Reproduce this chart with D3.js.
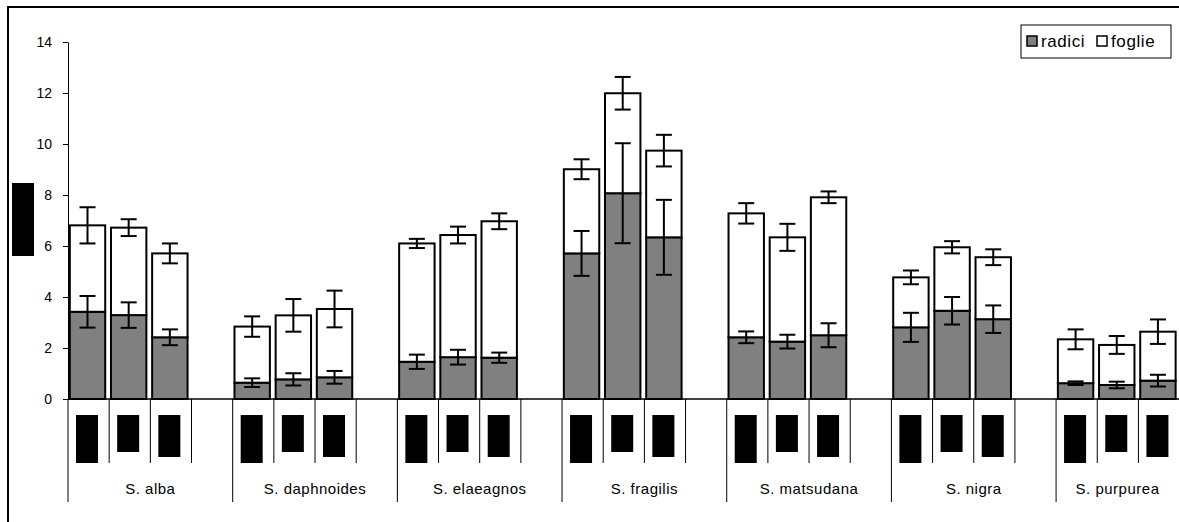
<!DOCTYPE html>
<html lang="it">
<head>
<meta charset="utf-8">
<title>radici / foglie</title>
<script src="https://cdn.jsdelivr.net/npm/d3@7"></script>
<style>
  body { margin: 0; background: #fff; }
  svg text { font-family: "Liberation Sans", Arial, sans-serif; fill: #000; }
</style>
</head>
<body>
<div id="chart"></div>
<script>
// species groups, 3 bars each
var groups = ["S. alba", "S. daphnoides", "S. elaeagnos", "S. fragilis", "S. matsudana", "S. nigra", "S. purpurea"];

// series values, 3 per group
var radici    = [3.42, 3.29, 2.42,  0.64, 0.77, 0.85,  1.46, 1.64, 1.62,  5.71, 8.07, 6.34,  2.42, 2.25, 2.50,  2.81, 3.46, 3.13,  0.62, 0.55, 0.72];
var foglie    = [3.39, 3.43, 3.29,  2.20, 2.51, 2.68,  4.64, 4.79, 5.35,  3.30, 3.92, 3.40,  4.86, 4.09, 5.41,  1.96, 2.49, 2.43,  1.72, 1.57, 1.92];
var errRadici = [0.62, 0.50, 0.31,  0.17, 0.24, 0.25,  0.28, 0.29, 0.20,  0.88, 1.96, 1.47,  0.23, 0.27, 0.47,  0.57, 0.54, 0.54,  0.07, 0.13, 0.23];
var errFoglie = [0.71, 0.33, 0.39,  0.40, 0.64, 0.72,  0.18, 0.33, 0.31,  0.39, 0.64, 0.62,  0.40, 0.53, 0.23,  0.27, 0.24, 0.31,  0.39, 0.35, 0.48];

var yTicks = [0, 2, 4, 6, 8, 10, 12, 14];
var seriesNames = ["radici", "foglie"];

// sub-category labels are blacked out in the source: only their block heights
var subBlockH = [48, 37, 42];

var W = 1179, H = 522;
var plotLeft = 68, plotTop = 42, plotBottom = 399;
var slotW = 41.17;
var perGroup = 4;

var svg = d3.select("#chart").append("svg")
  .attr("width", W).attr("height", H);

// outer frame (runs off the right / bottom edges)
svg.append("rect")
  .attr("x", 8).attr("y", 7).attr("width", 1300).attr("height", 700)
  .attr("fill", "none").attr("stroke", "#000").attr("stroke-width", 2);

// slots: 3 bars + one empty slot per group
var slots = [];
groups.forEach(function(g, gi) {
  for (var i = 0; i < perGroup; i++) slots.push(gi + "-" + i);
});

var x = d3.scaleBand()
  .domain(slots)
  .range([plotLeft, plotLeft + slots.length * slotW])
  .padding(0);

var y = d3.scaleLinear().domain([0, 14]).range([plotBottom, plotTop]);

var bars = [];
groups.forEach(function(g, gi) {
  for (var i = 0; i < 3; i++) {
    var k = gi * 3 + i;
    bars.push({
      slot: gi + "-" + i, sub: i,
      r: radici[k], f: foglie[k],
      er: errRadici[k], ef: errFoglie[k]
    });
  }
});

var barW = x.bandwidth() * 0.86;
function bx(d) { return x(d.slot) + 1.8; }

// y axis
var yAxis = svg.append("g")
  .attr("transform", "translate(" + plotLeft + ",0)")
  .call(d3.axisLeft(y).tickValues(yTicks).tickSize(5).tickSizeOuter(0).tickPadding(11));
yAxis.select(".domain").attr("stroke", "#000").attr("stroke-width", 1);
yAxis.selectAll(".tick line").attr("stroke", "#000");
yAxis.selectAll(".tick text")
  .attr("font-size", 14).attr("font-family", "Liberation Sans, Arial, sans-serif")
  .attr("fill", "#000");

// y title (blacked out)
svg.append("rect")
  .attr("x", 12).attr("y", 183).attr("width", 22).attr("height", 73)
  .attr("fill", "#000");

// radici bars
svg.append("g").selectAll("rect")
  .data(bars).enter().append("rect")
  .attr("x", bx)
  .attr("y", function(d) { return y(d.r); })
  .attr("width", barW)
  .attr("height", function(d) { return y(0) - y(d.r); })
  .attr("fill", "#808080").attr("stroke", "#000").attr("stroke-width", 2);

// foglie bars stacked on top
svg.append("g").selectAll("rect")
  .data(bars).enter().append("rect")
  .attr("x", bx)
  .attr("y", function(d) { return y(d.r + d.f); })
  .attr("width", barW)
  .attr("height", function(d) { return y(d.r) - y(d.r + d.f); })
  .attr("fill", "#fff").attr("stroke", "#000").attr("stroke-width", 2);

// error bars
var errs = [];
bars.forEach(function(d) {
  errs.push({ cx: bx(d) + barW / 2, v: d.r, e: d.er });
  errs.push({ cx: bx(d) + barW / 2, v: d.r + d.f, e: d.ef });
});
var eg = svg.append("g").attr("stroke", "#000").attr("stroke-width", 2);
var capW = 8;
errs.forEach(function(d) {
  eg.append("line").attr("x1", d.cx).attr("x2", d.cx)
    .attr("y1", y(d.v + d.e)).attr("y2", y(d.v - d.e));
  eg.append("line").attr("x1", d.cx - capW).attr("x2", d.cx + capW)
    .attr("y1", y(d.v + d.e)).attr("y2", y(d.v + d.e));
  eg.append("line").attr("x1", d.cx - capW).attr("x2", d.cx + capW)
    .attr("y1", y(d.v - d.e)).attr("y2", y(d.v - d.e));
});

// category axis line
svg.append("line")
  .attr("x1", plotLeft).attr("x2", W + 10)
  .attr("y1", plotBottom).attr("y2", plotBottom)
  .attr("stroke", "#000").attr("stroke-width", 1.5);

// dividers below the axis
var dg = svg.append("g").attr("stroke", "#000").attr("stroke-width", 1);
slots.forEach(function(s, i) {
  var isGroup = i % perGroup === 0;
  dg.append("line")
    .attr("x1", x(s)).attr("x2", x(s))
    .attr("y1", plotBottom).attr("y2", isGroup ? 502 : 463);
});

// blacked-out sub labels
svg.append("g").selectAll("rect")
  .data(bars).enter().append("rect")
  .attr("x", function(d) { return x(d.slot) + 8; })
  .attr("y", 415)
  .attr("width", 22)
  .attr("height", function(d) { return subBlockH[d.sub]; })
  .attr("fill", "#000");

// group labels, centred in the visible part of each group
svg.append("g").selectAll("text")
  .data(groups).enter().append("text")
  .attr("x", function(g, gi) {
    var a = x(gi + "-0");
    var b = Math.min(a + perGroup * slotW, W);
    return (a + b) / 2;
  })
  .attr("y", 494)
  .attr("text-anchor", "middle")
  .attr("font-size", 15)
  .attr("letter-spacing", 0.5)
  .text(function(g) { return g; });

// legend
var lg = svg.append("g");
lg.append("rect")
  .attr("x", 1021).attr("y", 25).attr("width", 150).attr("height", 33)
  .attr("fill", "#fff").attr("stroke", "#000").attr("stroke-width", 1);
var legFill = ["#808080", "#fff"];
var legX = [1027, 1097];
seriesNames.forEach(function(n, i) {
  lg.append("rect")
    .attr("x", legX[i]).attr("y", 36).attr("width", 10).attr("height", 10)
    .attr("fill", legFill[i]).attr("stroke", "#000").attr("stroke-width", 1.5);
  lg.append("text")
    .attr("x", legX[i] + 14).attr("y", 47)
    .attr("font-size", 17)
    .attr("letter-spacing", 0.6)
    .text(n);
});
</script>
</body>
</html>
